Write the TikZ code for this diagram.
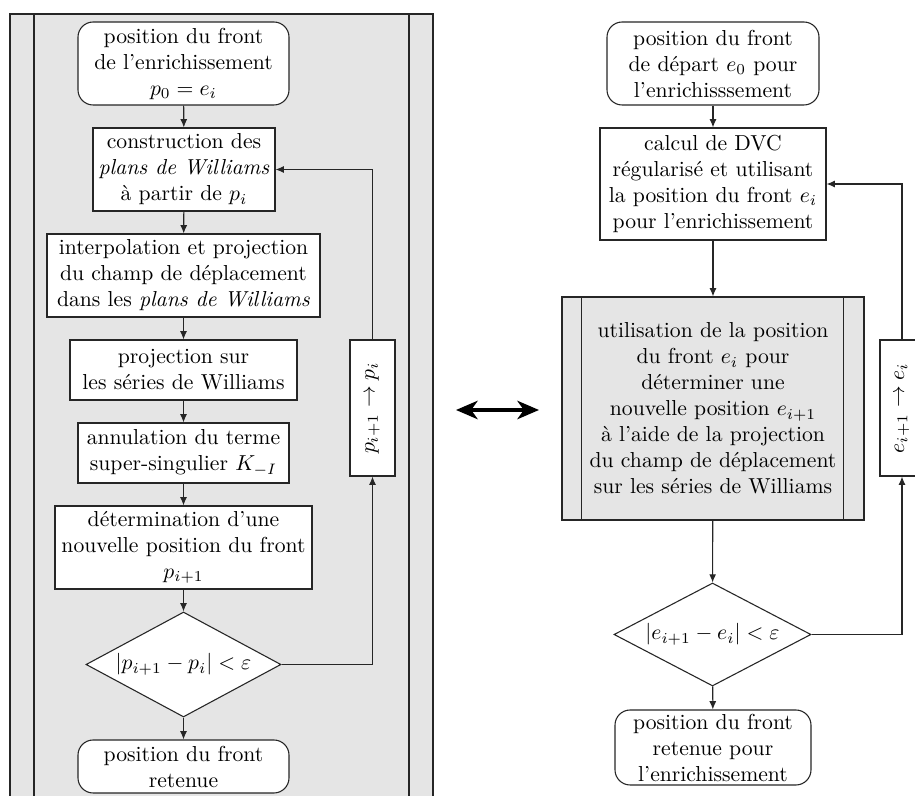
\documentclass[tikz,border=0pt]{standalone}
\usetikzlibrary{shapes.geometric,arrows.meta}
\newcommand{\pxl}{0.4615pt}
\begin{document}
\begin{tikzpicture}[x=0.4615pt,y=-0.4615pt,
  line width=0.5pt,
  every node/.style={font=\normalsize},
  box/.style={draw=black!85,fill=white,align=center,inner xsep=2pt,inner ysep=1pt},
  term/.style={box,rounded corners=7pt},
  dec/.style={draw=black!85,fill=white,diamond,aspect=1.86,inner sep=0pt,align=center},
  fbbox/.style={draw=black!85,fill=white,rotate=90,inner sep=1pt},
  arr/.style={draw=black!85,-{Latex[length=3.8pt,width=3.2pt]}},
  lin/.style={draw=black!85},
  panel/.style={draw=black!85,fill=black!10}]
\clip (0,0) rectangle (915,796);
% left panel
\draw[panel] (10,14) rectangle (433,830);
\draw[lin] (34,14) -- (34,830);
\draw[lin] (409,14) -- (409,830);
% left nodes
\node[term,minimum width=211*\pxl,minimum height=83*\pxl] (s1) at (183.5,63.5) {position du front\\ de l’enrichissement\\ $p_0=e_i$};
\node[box,minimum width=182*\pxl,minimum height=83*\pxl] (b2) at (184,169.5) {construction des\\ \textit{plans de Williams}\\ à partir de $p_i$};
\node[box,minimum width=273*\pxl,minimum height=83*\pxl] (b3) at (183.5,275.5) {interpolation et projection\\ du champ de déplacement\\ dans les \textit{plans de Williams}};
\node[box,minimum width=227*\pxl,minimum height=60*\pxl] (b4) at (183.5,370) {projection sur\\ les séries de Williams};
\node[box,minimum width=211*\pxl,minimum height=60*\pxl] (b5) at (183.5,453) {annulation du terme\\ super-singulier $K_{-I}$};
\node[box,minimum width=257*\pxl,minimum height=83*\pxl] (b6) at (183.5,547.5) {détermination d’une\\ nouvelle position du front\\ $p_{i+1}$};
\node[dec,minimum width=195*\pxl,minimum height=105*\pxl] (d1) at (183.5,664.5) {$|p_{i+1}-p_i| < \varepsilon$};
\node[term,minimum width=211*\pxl,minimum height=53*\pxl] (e1) at (183.5,766.5) {position du front\\ retenue};
\node[fbbox,minimum width=136*\pxl,minimum height=45*\pxl] (f1) at (372.5,408) {$p_{i+1}\rightarrow p_i$};
\draw[arr] (s1) -- (b2);
\draw[arr] (b2) -- (b3);
\draw[arr] (b3) -- (b4);
\draw[arr] (b4) -- (b5);
\draw[arr] (b5) -- (b6);
\draw[arr] (b6) -- (d1);
\draw[arr] (d1) -- (e1);
\draw[arr] (d1.east) -| (f1.west);
\draw[arr] (f1.east) |- (b2.east);
% double arrow
\coordinate (m1) at (456,410);
\coordinate (m2) at (539,410);
\draw[line width=1.6pt,{Stealth[length=10pt,width=8.5pt,inset=3pt]}-{Stealth[length=10pt,width=8.5pt,inset=3pt]}] (m1) -- (m2);
% right nodes
\node[term,minimum width=212*\pxl,minimum height=83*\pxl] (rs) at (713,63.5) {position du front\\ de départ $e_0$ pour\\ l’enrichisssement};
\node[box,minimum width=226*\pxl,minimum height=112*\pxl] (rc) at (713,184) {calcul de DVC\\ régularisé et utilisant\\ la position du front $e_i$\\ pour l’enrichissement};
\node[box,fill=black!10,minimum width=302*\pxl,minimum height=223*\pxl] (rp) at (713,408.5) {utilisation de la position\\ du front $e_i$ pour\\ déterminer une\\ nouvelle position $e_{i+1}$\\ à l’aide de la projection\\ du champ de déplacement\\ sur les séries de Williams};
\draw[lin] ([xshift=20*\pxl]rp.north west) -- ([xshift=20*\pxl]rp.south west);
\draw[lin] ([xshift=-21*\pxl]rp.north east) -- ([xshift=-21*\pxl]rp.south east);
\node[dec,minimum width=197*\pxl,minimum height=103*\pxl] (rd) at (712.5,634.5) {$|e_{i+1}-e_i| < \varepsilon$};
\node[term,minimum width=196*\pxl,minimum height=75*\pxl] (re) at (713,747.5) {position du front\\ retenue pour\\ l’enrichissement};
\node[fbbox,minimum width=136*\pxl,minimum height=44*\pxl] (f2) at (902,408) {$e_{i+1}\rightarrow e_i$};
\draw[arr] (rs) -- (rc);
\draw[arr] (rc) -- (rp);
\draw[arr] (rp) -- (rd);
\draw[arr] (rd) -- (re);
\draw[arr] (rd.east) -| (f2.west);
\draw[arr] (f2.east) |- (rc.east);
\end{tikzpicture}
\end{document}
